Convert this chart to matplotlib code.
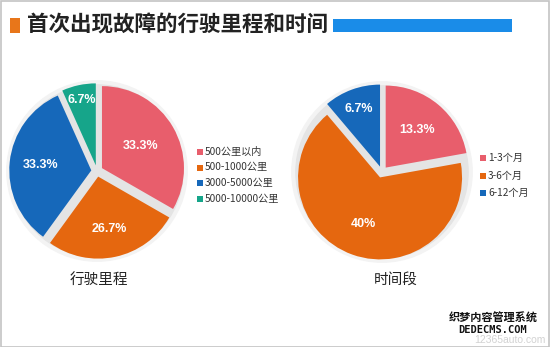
import numpy as np
import matplotlib
matplotlib.use("Agg")
import matplotlib.pyplot as plt
from matplotlib.patches import Rectangle, Circle

plt.rcParams['font.family'] = ['Noto Sans CJK SC', 'DejaVu Sans']

title = "首次出现故障的行驶里程和时间"

mileage_labels = ["500公里以内", "500-1000公里", "3000-5000公里", "5000-10000公里"]
mileage_values = [33.3, 26.7, 33.3, 6.7]
mileage_pct = ["33.3%", "26.7%", "33.3%", "6.7%"]

time_labels = ["1-3个月", "3-6个月", "6-12个月"]
time_values = [13.3, 40.0, 6.7]
time_pct = ["13.3%", "40%", "6.7%"]

colors4 = ["#E85E6C", "#E5670F", "#1668BA", "#16A58A"]
colors3 = ["#E85E6C", "#E5670F", "#1668BA"]

W, H = 550, 347
fig = plt.figure(figsize=(W / 100, H / 100), dpi=100)
fig.patch.set_facecolor("white")

def px(x, y):
    return x / W, 1 - y / H

# border
fig.patches.append(Rectangle((0.5 / W, 0.5 / H), 1 - 1.5 / W, 1 - 1.5 / H, transform=fig.transFigure,
                             fill=False, edgecolor="#c4c4c4", lw=1.2))
# title bar
fig.patches.append(Rectangle(px(10, 33), 10 / W, 15 / H, transform=fig.transFigure,
                             facecolor="#E8761A", edgecolor="none"))
fig.patches.append(Rectangle(px(333, 32), 179 / W, 13 / H, transform=fig.transFigure,
                             facecolor="#1A8CE8", edgecolor="none"))
fig.text(*px(27, 25), title, fontsize=15.5, fontweight="bold", color="#222222",
         ha="left", va="center")


def draw_pie(cx, cy, values, colors, pct, dists, r_px=82):
    size = 220
    ax = fig.add_axes([(cx - size / 2) / W, 1 - (cy + size / 2) / H, size / W, size / H])
    ax.set_aspect("equal")
    ax.axis("off")
    ax.add_patch(Circle((0, 0), 1.10, color="#f3f3f3", zorder=0))
    ax.add_patch(Circle((0, 0), 1.05, color="#e4e4e4", zorder=0))
    wedges, _ = ax.pie(values, colors=colors, startangle=90, counterclock=False,
                       explode=[0.07] * len(values), radius=1,
                       wedgeprops=dict(linewidth=0), frame=False)
    for w, t, d in zip(wedges, pct, dists):
        ang = np.deg2rad((w.theta1 + w.theta2) / 2)
        ox, oy = w.center
        ax.text(ox + d * np.cos(ang), oy + d * np.sin(ang), t, color="white",
                fontsize=9, fontweight="bold", family=["Liberation Sans", "DejaVu Sans"],
                ha="center", va="center")
    ax.set_xlim(-size / 2 / r_px, size / 2 / r_px)
    ax.set_ylim(-size / 2 / r_px, size / 2 / r_px)
    return ax


draw_pie(97, 171, mileage_values, colors4, mileage_pct, [0.55, 0.65, 0.62, 0.82])
draw_pie(382, 172, time_values, colors3, time_pct, [0.6, 0.6, 0.75])


def legend(x, ys, labels, colors):
    for y, lab, c in zip(ys, labels, colors):
        fig.patches.append(Rectangle(px(x, y + 3), 6 / W, 6 / H, transform=fig.transFigure,
                                     facecolor=c, edgecolor="none"))
        fig.text(*px(x + 8, y), lab, fontsize=7.3, color="#333333", ha="left", va="center")


legend(197, [152, 167.5, 183, 198.5], mileage_labels, colors4)
legend(480, [158, 175.5, 193], time_labels, colors3)

fig.text(*px(99, 280), "行驶里程", fontsize=10.5, color="#222222", ha="center", va="center")
fig.text(*px(396, 280), "时间段", fontsize=10.5, color="#222222", ha="center", va="center")

# watermark
fig.text(*px(510, 340), "12365auto.com", fontsize=7.5, color="#d2d2d2", ha="center", va="center",
         family=["Liberation Sans", "DejaVu Sans"])
fig.text(*px(493, 318), "织梦内容管理系统", fontsize=8, color="#111111", ha="center", va="center",
         fontweight="bold")
fig.text(*px(493, 330), "DEDECMS.COM", fontsize=7.5, color="#111111", ha="center", va="center",
         fontweight="bold", family=["DejaVu Sans Mono", "DejaVu Sans"])

fig.savefig("out.png", dpi=100)
